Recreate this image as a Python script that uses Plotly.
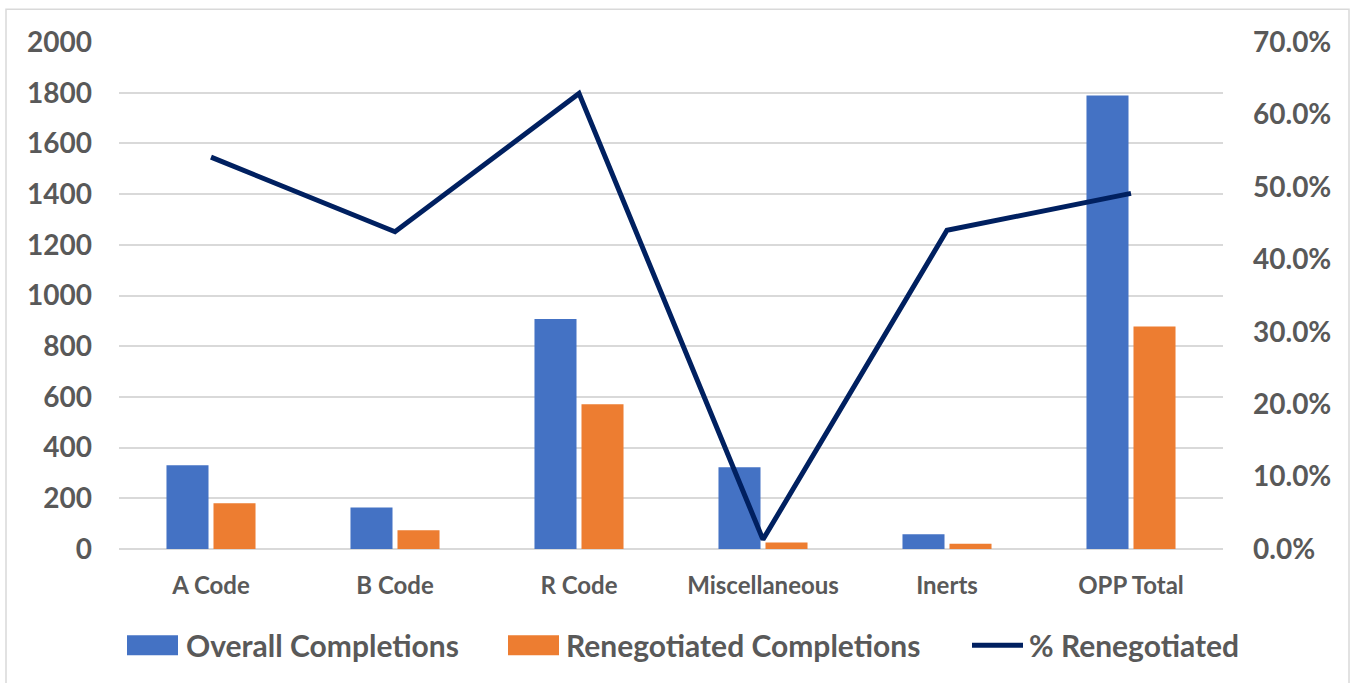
import plotly.graph_objects as go

categories = ["A Code", "B Code", "R Code", "Miscellaneous", "Inerts", "OPP Total"]
overall_completions = [330, 164, 907, 322, 58, 1789]
renegotiated_completions = [180, 74, 571, 26, 21, 878]
pct_renegotiated = [0.541, 0.438, 0.629, 0.013, 0.440, 0.491]

left_ticks = [0, 200, 400, 600, 800, 1000, 1200, 1400, 1600, 1800, 2000]
right_ticks = [0.0, 0.1, 0.2, 0.3, 0.4, 0.5, 0.6, 0.7]

series_names = ["Overall Completions", "Renegotiated Completions", "% Renegotiated"]

BLUE = "#4472C4"
ORANGE = "#ED7D31"
NAVY = "#002060"
TEXT = "#595959"
GRID = "#D9D9D9"
FONT = "Lato"

fig = go.Figure()
fig.add_trace(go.Bar(
    x=categories, y=overall_completions, name=series_names[0],
    marker=dict(color=BLUE, line=dict(width=0)),
))
fig.add_trace(go.Bar(
    x=categories, y=renegotiated_completions, name=series_names[1],
    marker=dict(color=ORANGE, line=dict(width=0)),
))
fig.add_trace(go.Scatter(
    x=categories, y=pct_renegotiated, name=series_names[2],
    mode="lines", yaxis="y2",
    line=dict(color=NAVY, width=5, shape="linear"),
))

# plot area in pixels: x 119..1223, y 41.7..548.7
L, R, T, B = 119, 1223, 41.7, 548.7
W, H = R - L, B - T


def px_x(x):
    return (x - L) / W


def px_y(y):
    return (B - y) / H


# legend row drawn below the axis (swatch boxes, line key, labels)
LEG_Y = 645
shapes = [
    dict(type="rect", xref="paper", yref="paper", layer="below",
         x0=px_x(6), x1=px_x(1349), y0=px_y(700), y1=px_y(9),
         line=dict(color=GRID, width=1.5), fillcolor="rgba(0,0,0,0)"),
    dict(type="rect", xref="paper", yref="paper",
         x0=px_x(127), x1=px_x(178), y0=px_y(LEG_Y + 10), y1=px_y(LEG_Y - 10),
         line=dict(width=0), fillcolor=BLUE),
    dict(type="rect", xref="paper", yref="paper",
         x0=px_x(508), x1=px_x(559), y0=px_y(LEG_Y + 10), y1=px_y(LEG_Y - 10),
         line=dict(width=0), fillcolor=ORANGE),
    dict(type="line", xref="paper", yref="paper",
         x0=px_x(972), x1=px_x(1023), y0=px_y(LEG_Y), y1=px_y(LEG_Y),
         line=dict(color=NAVY, width=5)),
]
legend_text_x = [184, 564, 1027]
annotations = [
    dict(text=name, xref="paper", yref="paper", x=px_x(tx), y=px_y(LEG_Y),
         xanchor="left", yanchor="middle", showarrow=False,
         font=dict(family=FONT, size=30, color=TEXT, weight="bold"))
    for name, tx in zip(series_names, legend_text_x)
]

fig.update_layout(
    width=1351, height=683,
    margin=dict(l=L, r=1351 - R, t=T, b=683 - B, pad=0),
    paper_bgcolor="white", plot_bgcolor="white",
    barmode="group", bargap=0.489, bargroupgap=0.106,
    font=dict(family=FONT, color=TEXT, size=20),
    showlegend=False,
    xaxis=dict(
        type="category", showgrid=False, zeroline=False,
        showline=False, ticks="", ticklabelstandoff=20,
        tickfont=dict(family=FONT, size=24, color=TEXT, weight="bold"),
    ),
    yaxis=dict(
        range=[0, 2000], tickvals=left_ticks,
        showgrid=True, gridcolor=GRID, gridwidth=2,
        zeroline=True, zerolinecolor=GRID, zerolinewidth=2,
        showline=False, ticks="", ticklabelstandoff=26,
        tickfont=dict(family=FONT, size=28, color=TEXT, weight="bold"),
    ),
    yaxis2=dict(
        range=[0, 0.7], tickvals=right_ticks, tickformat=".1%",
        overlaying="y", side="right", showgrid=False, zeroline=False,
        showline=False, ticks="", ticklabelstandoff=29,
        tickfont=dict(family=FONT, size=28, color=TEXT, weight="bold"),
    ),
    shapes=shapes,
    annotations=annotations,
)

fig.write_html("out.html")
